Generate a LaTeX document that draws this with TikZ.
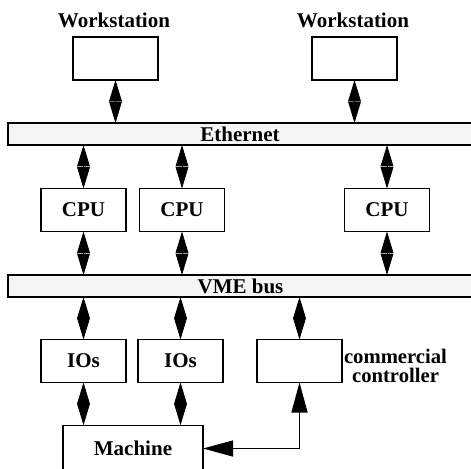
\documentclass[tikz,border=0pt]{standalone}
\usepackage{fontspec}
\setmainfont{Liberation Serif}
\usetikzlibrary{arrows.meta}
\begin{document}
\begin{tikzpicture}[x=0.75pt,y=-0.75pt,
  lbl/.style={font=\fontsize{15.75}{17}\selectfont\bfseries, inner sep=0pt},
  box/.style={draw, line width=0.9pt, minimum width=63.75pt, minimum height=32.25pt, inner sep=0pt, outer sep=0pt, font=\fontsize{15.75}{17}\selectfont\bfseries},
  bar/.style={draw, line width=0.9pt, fill=black!4, minimum width=348pt, minimum height=16.5pt, inner sep=0pt, outer sep=0pt, anchor=west, font=\fontsize{15.75}{17}\selectfont\bfseries},
  dbl/.style={line width=0.6pt, {Triangle[width=9.5pt,length=16pt]}-{Triangle[width=9.5pt,length=16pt]}},
  ctl/.style={line width=0.9pt, {Triangle[width=12pt,length=22.5pt]}-{Triangle[width=12pt,length=22.5pt]}}
]
\useasboundingbox (0,0) rectangle (471,468);

% workstations
\node[lbl] (wl1) at (114,20) {Workstation};
\node[lbl] (wl2) at (353,20) {Workstation};
\node[box] (ws1) at (115.5,58.5) {};
\node[box] (ws2) at (354.5,58.5) {};

% Ethernet
\node[bar] (eth) at (8,134) {};
\node[lbl] (ethl) at (240,134) {Ethernet};

% CPUs
\node[box] (cpu1) at (83.5,210) {CPU};
\node[box] (cpu2) at (182,210) {CPU};
\node[box] (cpu3) at (387,210) {CPU};

% VME
\node[bar] (vme) at (8,286) {};
\node[lbl] (vmel) at (240.5,286) {VME bus};

% IOs and controller
\node[box] (io1) at (83.5,361) {IOs};
\node[box] (io2) at (180.5,361) {IOs};
\node[box] (ctrl) at (299.5,361) {};
\node[align=center, inner sep=0pt, font=\fontsize{15.5}{14.2}\selectfont\bfseries] (ctrll) at (395.5,366) {commercial\\controller};

% Machine
\node[draw, line width=0.9pt, minimum width=105pt, minimum height=35pt, inner sep=0pt, outer sep=0pt, font=\fontsize{15.75}{17}\selectfont\bfseries] (mach) at (133,448.5) {Machine};

% connectors
\draw[dbl] (ws1.south) -- (ws1.south |- eth.north);
\draw[dbl] (ws2.south) -- (ws2.south |- eth.north);
\draw[dbl] (cpu1.north) -- (cpu1.north |- eth.south);
\draw[dbl] (cpu2.north) -- (cpu2.north |- eth.south);
\draw[dbl] (cpu3.north) -- (cpu3.north |- eth.south);
\draw[dbl] (cpu1.south) -- (cpu1.south |- vme.north);
\draw[dbl] (cpu2.south) -- (cpu2.south |- vme.north);
\draw[dbl] (cpu3.south) -- (cpu3.south |- vme.north);
\draw[dbl] (io1.north) -- (io1.north |- vme.south);
\draw[dbl] (io2.north) -- (io2.north |- vme.south);
\draw[dbl] (ctrl.north) -- (ctrl.north |- vme.south);
\draw[dbl] (io1.south) -- (io1.south |- mach.north);
\draw[dbl] (io2.south) -- (io2.south |- mach.north);
\draw[ctl] (ctrl.south) |- (mach.east);
\end{tikzpicture}
\end{document}
